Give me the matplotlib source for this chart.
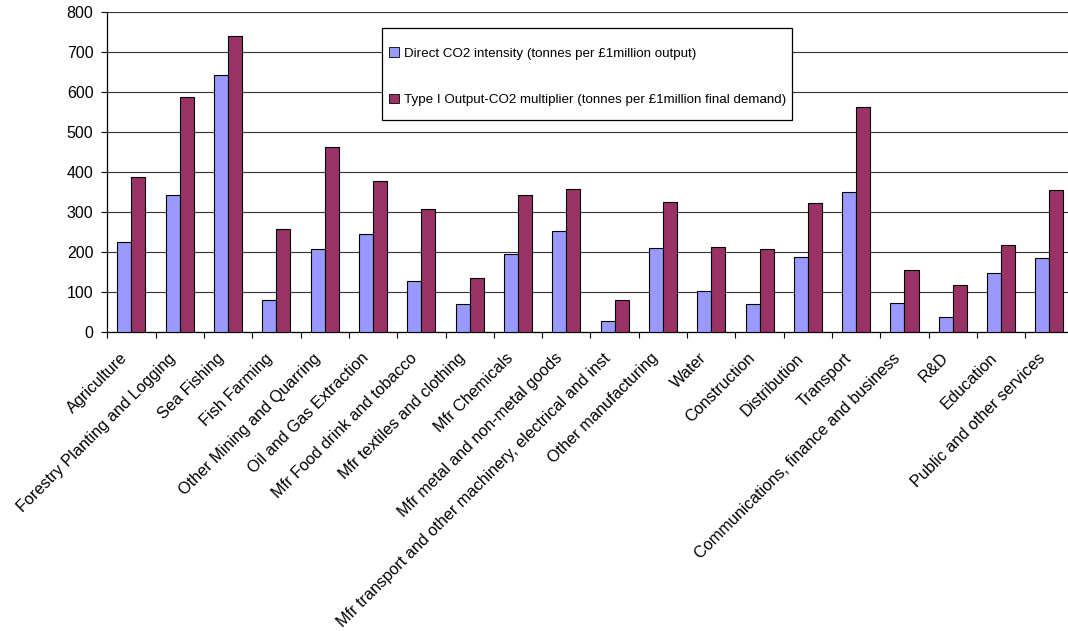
import matplotlib
matplotlib.use("Agg")
import matplotlib.pyplot as plt
from matplotlib.patches import Rectangle, Patch
from matplotlib.transforms import ScaledTranslation
import numpy as np

plt.rcParams["font.family"] = ["Liberation Sans", "DejaVu Sans"]

sectors = [
    "Agriculture",
    "Forestry Planting and Logging",
    "Sea Fishing",
    "Fish Farming",
    "Other Mining and Quarring",
    "Oil and Gas Extraction",
    "Mfr Food drink and tobacco",
    "Mfr textiles and clothing",
    "Mfr Chemicals",
    "Mfr metal and non-metal goods",
    "Mfr transport and other machinery, electrical and inst",
    "Other manufacturing",
    "Water",
    "Construction",
    "Distribution",
    "Transport",
    "Communications, finance and business",
    "R&D",
    "Education",
    "Public and other services",
]

direct_intensity = [226, 342, 643, 80, 207, 244, 127, 71, 195, 253,
                    27, 209, 102, 70, 187, 351, 73, 37, 147, 186]
output_multiplier = [387, 587, 741, 258, 462, 377, 307, 134, 342, 357,
                     79, 325, 212, 207, 323, 563, 155, 118, 217, 354]

series_labels = [
    "Direct CO2 intensity (tonnes per £1million output)",
    "Type I Output-CO2 multiplier (tonnes per £1million final demand)",
]
colors = ["#9999FF", "#993366"]

W, H = 1068, 631
fig = plt.figure(figsize=(W / 100, H / 100), dpi=100)
ax = fig.add_axes([107.3 / W, 1 - 332 / H, 966.3 / W, 320 / H])

x = np.arange(len(sectors))
bw = 0.29
ax.bar(x - bw / 2, direct_intensity, bw, color=colors[0],
       edgecolor="black", linewidth=0.8, zorder=3)
ax.bar(x + bw / 2, output_multiplier, bw, color=colors[1],
       edgecolor="black", linewidth=0.8, zorder=3)

ax.set_xlim(-0.5, len(sectors) - 0.5)
ax.set_ylim(0, 800)
ax.set_yticks(np.arange(0, 801, 100))
ax.yaxis.grid(True, color="#333333", linewidth=0.8, zorder=0)
ax.set_axisbelow(True)

for side in ("top", "right"):
    ax.spines[side].set_visible(False)
ax.spines["left"].set_linewidth(0.9)
ax.spines["bottom"].set_linewidth(0.9)

# category separators as tick marks, labels centred under each pair
ax.set_xticks(np.arange(len(sectors) + 1) - 0.5)
ax.set_xticklabels([])
ax.set_xticks(x, minor=True)
ax.set_xticklabels(sectors, minor=True, rotation=45, ha="right",
                   rotation_mode="anchor", fontsize=11.7)
ax.tick_params(axis="x", which="minor", length=0, pad=9)
ax.tick_params(axis="x", which="major", length=4, width=0.8, direction="out")
ax.tick_params(axis="y", length=4, width=0.8, direction="out", pad=6,
               labelsize=11.5)

# nudge the slanted category labels slightly left and down
shift = ScaledTranslation(-0.12, -0.06, fig.dpi_scale_trans)
for lbl in ax.get_xticklabels(minor=True):
    lbl.set_transform(lbl.get_transform() + shift)

# legend with a plain rectangular frame
handles = [Patch(facecolor=c, edgecolor="black", linewidth=0.6) for c in colors]
fig.legend(handles, series_labels, loc="upper left",
           bbox_to_anchor=(389 / W, 1 - 47 / H),
           frameon=False, fontsize=9.6, handlelength=0.75, handleheight=0.75,
           handletextpad=0.4, labelspacing=2.55, borderpad=0, borderaxespad=0)
fig.patches.append(Rectangle((381.7 / W, 1 - 120 / H), 410 / W, 92 / H,
                             transform=fig.transFigure, facecolor="white",
                             edgecolor="black", linewidth=0.9, zorder=1))

fig.savefig("out.png", dpi=100)
